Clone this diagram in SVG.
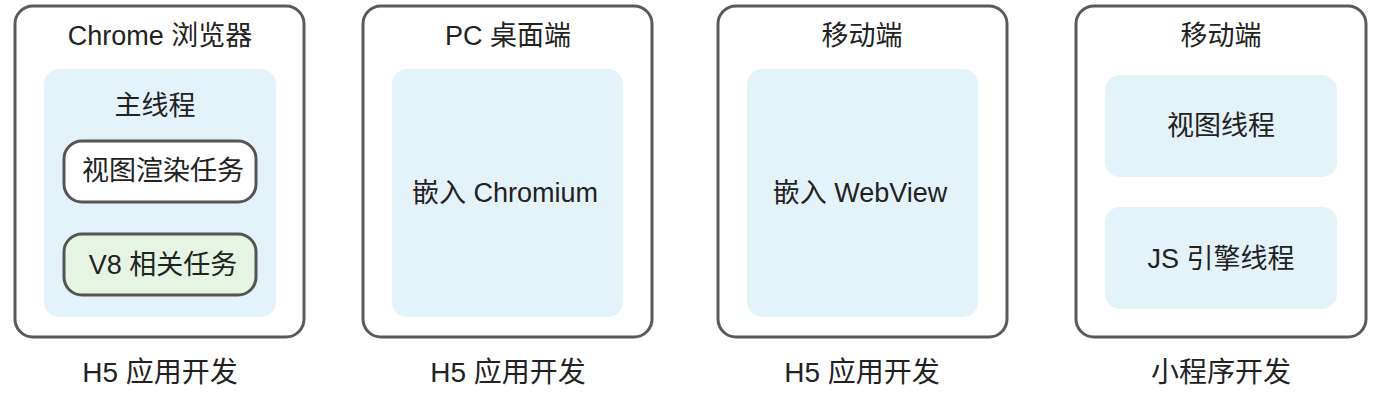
<svg xmlns="http://www.w3.org/2000/svg" width="1385" height="408" viewBox="0 0 1385 408">
<style>
.outer{fill:#fff;stroke:#5a5a5a;stroke-width:3}
.inner{fill:#e4f2fa}
.task{fill:#fff;stroke:#555;stroke-width:3}
.v8{fill:#e5f4e3;stroke:#555;stroke-width:3}
text{font-family:"Liberation Sans","Noto Sans CJK SC",sans-serif;fill:#222;text-anchor:middle}
.t{font-size:27px}
.b{font-size:28px}
</style>
<rect width="1385" height="408" fill="#fff"/>
<g id="chrome">
<rect class="outer" x="15" y="6" width="289" height="331" rx="18"/>
<text class="t" x="160" y="45">Chrome 浏览器</text>
<rect class="inner" x="44" y="69" width="232" height="248" rx="15"/>
<text class="t" x="155" y="115">主线程</text>
<rect class="task" x="64" y="141" width="192" height="61" rx="18"/>
<text class="t" x="163" y="180">视图渲染任务</text>
<rect class="v8" x="64" y="234" width="192" height="61" rx="18"/>
<text class="t" x="163" y="274">V8 相关任务</text>
<text class="b" x="160" y="382">H5 应用开发</text>
</g>
<g id="pc">
<rect class="outer" x="363" y="6" width="289" height="331" rx="18"/>
<text class="t" x="508" y="45">PC 桌面端</text>
<rect class="inner" x="392" y="69" width="231" height="248" rx="15"/>
<text class="t" x="505" y="202">嵌入 Chromium</text>
<text class="b" x="508" y="382">H5 应用开发</text>
</g>
<g id="mobile">
<rect class="outer" x="718" y="6" width="289" height="331" rx="18"/>
<text class="t" x="862" y="45">移动端</text>
<rect class="inner" x="747" y="69" width="231" height="248" rx="15"/>
<text class="t" x="860" y="202">嵌入 WebView</text>
<text class="b" x="862" y="382">H5 应用开发</text>
</g>
<g id="miniprogram">
<rect class="outer" x="1076" y="6" width="290" height="331" rx="18"/>
<text class="t" x="1221" y="45">移动端</text>
<rect class="inner" x="1105" y="75" width="232" height="102" rx="15"/>
<text class="t" x="1221" y="135">视图线程</text>
<rect class="inner" x="1105" y="207" width="232" height="102" rx="15"/>
<text class="t" x="1221" y="268">JS 引擎线程</text>
<text class="b" x="1221" y="382">小程序开发</text>
</g>
<g id="connectors"></g>
</svg>
